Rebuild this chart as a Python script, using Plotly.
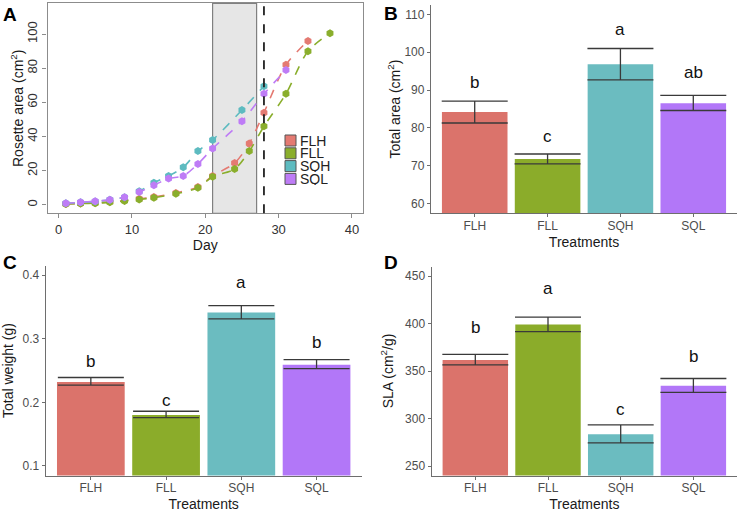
import plotly.graph_objects as go

# ---------------- data ----------------
treatments = ["FLH", "FLL", "SQH", "SQL"]
colors_line = ["#E47A72", "#8AAE2C", "#5DBBC0", "#BE7CF6"]
colors_bar = ["#DB736B", "#8BAC2A", "#6BBCC0", "#B277F8"]

# Panel A: rosette growth
days_FLH = [1, 3, 5, 7, 9, 11, 13, 16, 19, 21, 24, 26, 28, 31, 34]
area_FLH = [0.6, 0.9, 1.2, 1.8, 2.6, 3.6, 4.6, 7.0, 10.5, 17.0, 24.5, 36.0, 54.0, 82.0, 96.0]
days_FLL = [1, 3, 5, 7, 9, 11, 13, 16, 19, 21, 24, 26, 28, 31, 34, 37]
area_FLL = [0.5, 0.8, 1.0, 1.5, 2.3, 3.2, 4.2, 6.5, 10.0, 16.5, 21.0, 31.5, 46.0, 65.0, 90.0, 100.5]
days_SQH = [1, 3, 5, 7, 9, 11, 13, 15, 17, 19, 21, 25, 28]
area_SQH = [1.0, 1.5, 2.0, 3.0, 4.5, 8.0, 13.0, 17.0, 22.0, 31.5, 38.0, 55.5, 69.5]
days_SQL = [1, 3, 5, 7, 9, 11, 13, 15, 17, 19, 21, 25, 28, 31]
area_SQL = [1.0, 1.5, 2.2, 3.0, 4.5, 7.5, 11.5, 15.5, 17.0, 24.0, 33.0, 49.0, 65.0, 79.0]
shade_start, shade_end, harvest_day = 21, 27, 28

# Panel B: total area
total_area = [84.2, 71.8, 96.8, 86.5]
total_area_err_up = [2.9, 1.3, 4.2, 2.1]
total_area_err_dn = [2.9, 1.3, 4.1, 1.9]
total_area_letters = ["b", "c", "a", "ab"]
total_area_letter_y = [92.0, 77.8, 106.0, 94.6]

# Panel C: total weight
total_weight = [0.232, 0.180, 0.341, 0.259]
total_weight_err_up = [0.007, 0.006, 0.011, 0.008]
total_weight_err_dn = [0.005, 0.004, 0.010, 0.006]
total_weight_letters = ["b", "c", "a", "b"]
total_weight_letter_y = [0.264, 0.203, 0.388, 0.294]

# Panel D: SLA
sla = [361.5, 399.0, 283.5, 334.5]
sla_err_up = [6.0, 7.7, 9.8, 7.6]
sla_err_dn = [5.0, 7.5, 9.1, 7.1]
sla_letters = ["b", "a", "c", "b"]
sla_letter_y = [396.0, 436.5, 309.0, 365.0]

FONT = "Liberation Sans, Arial, sans-serif"
TICKC = "#4D4D4D"
AXC = "#6E6E6E"
W, H = 742, 512

fig = go.Figure()

# ---------------- panel A ----------------
seriesA = [(days_FLH, area_FLH), (days_FLL, area_FLL), (days_SQH, area_SQH), (days_SQL, area_SQL)]
for (dx, dy), name, c in zip(seriesA, treatments, colors_line):
    fig.add_trace(go.Scatter(
        x=dx, y=dy, mode="lines+markers", name=name, showlegend=False,
        line=dict(color=c, width=1.6, dash="dash", shape="spline", smoothing=0.8),
        marker=dict(color=c, size=8, symbol="hexagon"),
        xaxis="x", yaxis="y"))

fig.add_shape(type="rect", xref="x", yref="y domain", x0=shade_start, x1=shade_end, y0=0, y1=1,
              fillcolor="#E6E6E6", line=dict(color="#808080", width=1.2), layer="below")
fig.add_shape(type="line", xref="x", yref="y domain", x0=harvest_day, x1=harvest_day, y0=0, y1=1,
              line=dict(color="#222222", width=1.8, dash="dash"))

# manual legend (square swatches, tight spacing like the original)
leg_x, leg_y0, leg_dy, sw = 285, 140.5, 12.8, 11
for i, (name, c) in enumerate(zip(treatments, colors_line)):
    cy = leg_y0 + i * leg_dy
    fig.add_shape(type="rect", xref="paper", yref="paper",
                  x0=leg_x / W, x1=(leg_x + sw) / W, y0=1 - (cy + sw / 2) / H, y1=1 - (cy - sw / 2) / H,
                  fillcolor=c, line=dict(color="#555555", width=1))
    fig.add_annotation(text=name, x=(leg_x + sw + 2) / W, y=1 - cy / H, xref="paper", yref="paper",
                       showarrow=False, xanchor="left", yanchor="middle", height=12, valign="middle",
                       font=dict(size=14, color="#222222", family=FONT))

# ---------------- bar panels ----------------
def bar_panel(vals, up, dn, letters, ly, xa, ya):
    fig.add_trace(go.Bar(
        x=treatments, y=vals, width=0.9, marker=dict(color=colors_bar, line=dict(width=0)),
        error_y=dict(type="data", symmetric=False, array=up, arrayminus=dn,
                     color="#3A3A3A", thickness=1.3, width=33),
        showlegend=False, xaxis=xa, yaxis=ya))
    for t, l, y in zip(treatments, letters, ly):
        fig.add_annotation(x=t, y=y, text=l, xref=xa, yref=ya, showarrow=False,
                           font=dict(size=17, color="#111111", family=FONT), yanchor="middle")

bar_panel(total_area, total_area_err_up, total_area_err_dn, total_area_letters, total_area_letter_y, "x2", "y2")
bar_panel(total_weight, total_weight_err_up, total_weight_err_dn, total_weight_letters, total_weight_letter_y, "x3", "y3")
bar_panel(sla, sla_err_up, sla_err_dn, sla_letters, sla_letter_y, "x4", "y4")

def fx(a, b):
    return [a / W, b / W]
def fy(top, bot):
    return [1 - bot / H, 1 - top / H]

tickA = dict(size=13, color="#333333", family=FONT)
tickB = dict(size=12, color=TICKC, family=FONT)
titleF = dict(size=14, color="#1A1A1A", family=FONT)

common_bar_x = dict(type="category", range=[-0.6, 3.6], showline=True, linecolor=AXC, linewidth=1.3,
                    ticks="outside", ticklen=3, tickcolor=AXC, tickfont=tickB, showgrid=False, zeroline=False,
                    automargin=False, ticklabelstandoff=-2,
                    title=dict(text="Treatments", font=titleF, standoff=5))
common_bar_y = dict(showline=True, linecolor=AXC, linewidth=1.3, ticks="outside", ticklen=3, tickcolor=AXC,
                    tickfont=tickB, showgrid=False, zeroline=False, automargin=False)

fig.update_layout(
    width=W, height=H, margin=dict(l=0, r=0, t=0, b=0, pad=0, autoexpand=False),
    paper_bgcolor="white", plot_bgcolor="white", font=dict(family=FONT),
    barmode="overlay", showlegend=False,
    xaxis=dict(domain=fx(47.5, 363), range=[-1.5, 41.5], tickvals=[0, 10, 20, 30, 40],
               showline=True, mirror=True, linecolor="#8C8C8C", linewidth=1.3, automargin=False,
               ticks="outside", ticklen=4, tickcolor="#8C8C8C", tickfont=tickA, showgrid=False, zeroline=False,
               title=dict(text="Day", font=titleF, standoff=0), anchor="y"),
    yaxis=dict(domain=fy(3.3, 213.3), range=[-4.9, 118], tickvals=[0, 20, 40, 60, 80, 100], tickangle=-90,
               showline=True, mirror=True, linecolor="#8C8C8C", linewidth=1.3, automargin=False,
               ticks="outside", ticklen=4, tickcolor="#8C8C8C", tickfont=tickA, showgrid=False, zeroline=False,
               anchor="x"),
    xaxis2=dict(domain=fx(431, 737), anchor="y2", **common_bar_x),
    yaxis2=dict(domain=fy(5, 213), range=[57.5, 112.5], tickvals=[60, 70, 80, 90, 100, 110], anchor="x2",
                title=dict(text="Total area (cm<sup>2</sup>)", font=titleF, standoff=0), **common_bar_y),
    xaxis3=dict(domain=fx(45.7, 361.7), anchor="y3", **common_bar_x),
    yaxis3=dict(domain=fy(265.5, 475.5), range=[0.085, 0.415], tickvals=[0.1, 0.2, 0.3, 0.4], anchor="x3",
                title=dict(text="Total weight (g)", font=titleF, standoff=6), **common_bar_y),
    xaxis4=dict(domain=fx(431.7, 737), anchor="y4", **common_bar_x),
    yaxis4=dict(domain=fy(266.5, 475.5), range=[240, 460], tickvals=[250, 300, 350, 400, 450], anchor="x4",
                title=dict(text="SLA (cm<sup>2</sup>/g)", font=titleF, standoff=8), **common_bar_y),
)

# panel A y title placed as rotated text close to the rotated tick labels
fig.add_annotation(text="Rosette area (cm<sup>2</sup>)", x=17 / W, y=1 - 108 / H, xref="paper", yref="paper",
                   showarrow=False, textangle=-90, xanchor="center", yanchor="middle", font=titleF)

for txt, x, y in [("A", 10, 14), ("B", 391, 13), ("C", 10, 262), ("D", 391, 262)]:
    fig.add_annotation(text="<b>%s</b>" % txt, x=x / W, y=1 - y / H, xref="paper", yref="paper",
                       showarrow=False, xanchor="center", yanchor="middle",
                       font=dict(size=19, color="#000000", family=FONT))

fig.write_html("out.html", config={"displayModeBar": False},
               post_script="document.body.style.margin='0';document.body.style.padding='0';")
